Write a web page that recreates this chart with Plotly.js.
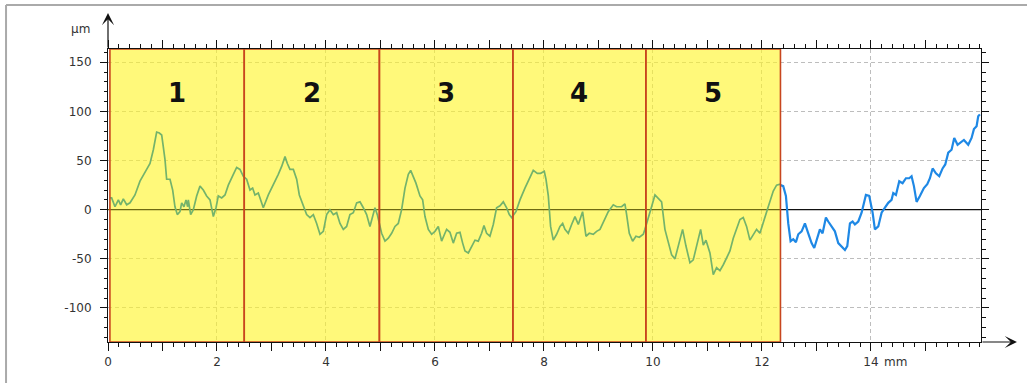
<!DOCTYPE html>
<html>
<head>
<meta charset="utf-8">
<script src="https://cdn.plot.ly/plotly-3.0.1.min.js"></script>
<style>
  html, body { margin: 0; padding: 0; background: #fff; }
  #chart { width: 1029px; height: 383px; }
</style>
</head>
<body>
<div id="chart"></div>
<script>
// Surface profile, position in mm and height in µm
const evalX = [0.037,0.067,0.128,0.190,0.232,0.281,0.343,0.404,0.495,0.587,0.709,0.771,0.832,0.893,0.942,0.985,1.015,1.046,1.076,1.138,1.187,1.229,1.272,1.321,1.352,1.394,1.431,1.462,1.474,1.517,1.566,1.627,1.688,1.749,1.810,1.872,1.933,1.982,2.024,2.086,2.147,2.208,2.300,2.361,2.422,2.483,2.544,2.606,2.654,2.697,2.758,2.850,2.942,3.034,3.125,3.187,3.248,3.291,3.339,3.401,3.462,3.511,3.584,3.645,3.706,3.768,3.829,3.890,3.951,4.012,4.073,4.135,4.196,4.257,4.318,4.379,4.440,4.502,4.563,4.624,4.685,4.746,4.807,4.856,4.899,4.942,5.021,5.083,5.144,5.205,5.266,5.327,5.388,5.450,5.511,5.554,5.602,5.651,5.725,5.774,5.817,5.878,5.939,6.000,6.061,6.122,6.183,6.214,6.275,6.336,6.398,6.459,6.508,6.551,6.612,6.673,6.734,6.795,6.856,6.899,6.948,7.009,7.070,7.131,7.193,7.254,7.315,7.364,7.407,7.486,7.560,7.651,7.731,7.804,7.878,7.939,8.006,8.037,8.080,8.122,8.171,8.232,8.294,8.343,8.385,8.446,8.508,8.569,8.630,8.709,8.771,8.832,8.905,8.966,9.028,9.089,9.180,9.272,9.333,9.425,9.486,9.517,9.566,9.627,9.688,9.749,9.823,9.853,9.914,9.975,10.037,10.098,10.159,10.220,10.281,10.343,10.404,10.465,10.544,10.606,10.679,10.740,10.801,10.875,10.924,10.973,11.046,11.107,11.168,11.229,11.291,11.352,11.413,11.474,11.535,11.596,11.657,11.718,11.780,11.841,11.902,11.963,12.024,12.116,12.208,12.269,12.330,12.343];
const evalY = [12,12,3,10,5,11,5,7,15,29,41,47,61,79,78,76,64,51,31,31,20,3,-5,-2,7,3,10,3,10,-5,0,14,24,20,14,10,-7,2,14,12,15,25,36,43,41,34,31,20,22,15,17,2,15,25,36,44,54,47,41,41,31,15,3,-5,-8,-5,-14,-25,-22,-5,0,-5,-3,-14,-20,-17,-5,-3,7,8,2,-5,-17,-8,2,-5,-24,-32,-29,-24,-17,-14,0,22,36,40,34,27,14,10,-7,-20,-25,-22,-17,-32,-24,-20,-23,-34,-24,-23,-34,-42,-44,-37,-31,-32,-24,-16,-24,-27,-15,2,4,8,2,-5,-8,-2,10,22,32,40,37,37,39,31,14,-17,-31,-25,-17,-14,-20,-24,-15,-7,-15,-2,-27,-24,-25,-22,-20,-12,-2,5,3,3,6,-5,-24,-32,-27,-28,-25,-20,-7,3,15,12,8,-20,-34,-46,-50,-37,-20,-37,-54,-51,-36,-20,-36,-31,-44,-66,-59,-62,-56,-49,-42,-29,-20,-10,-8,-17,-31,-25,-20,-24,-14,3,19,25,26,25];

const restX = [12.343,12.391,12.440,12.483,12.526,12.575,12.624,12.667,12.728,12.789,12.850,12.911,12.960,13.015,13.064,13.113,13.174,13.217,13.278,13.339,13.401,13.462,13.523,13.566,13.615,13.664,13.706,13.768,13.829,13.908,13.969,14.031,14.073,14.135,14.196,14.257,14.318,14.379,14.410,14.459,14.520,14.581,14.642,14.703,14.746,14.789,14.838,14.899,14.972,15.034,15.083,15.132,15.193,15.254,15.315,15.364,15.419,15.480,15.529,15.590,15.651,15.706,15.786,15.847,15.890,15.939,15.969,16.000];
const restY = [25,24,14,-14,-32,-30,-33,-25,-22,-14,-24,-34,-39,-29,-20,-24,-8,-12,-17,-22,-34,-37,-41,-37,-14,-12,-15,-12,-3,15,14,-3,-20,-17,-3,2,7,10,17,15,29,27,32,32,34,24,8,14,22,26,32,42,37,34,42,46,58,61,73,66,69,71,66,73,82,85,95,97];

// Evaluation sections (mm) and their labels
const sectionEdges = [0.035, 2.50, 4.98, 7.43, 9.87, 12.34];
const sectionLabels = ['1', '2', '3', '4', '5'];
const sectionLabelY = 119;

// Axis ticks
const xLabelVals = [0, 2, 4, 6, 8, 10, 12, 14];
const xLabelText = ['0', '2', '4', '6', '8', '10', '12', '14'];
const xOddVals = [1, 3, 5, 7, 9, 11, 13, 15];
const yTickVals = [-100, -50, 0, 50, 100, 150];
const yTickText = ['-100', '-50', '0', '50', '100', '150'];

const X_RANGE = [0, 16.02];
const Y_RANGE = [-134.6, 163.5];

const tickFont = { family: 'DejaVu Sans, sans-serif', size: 12, color: '#333' };
const axisInk = '#111';
const gridInk = '#bdbdbd';
const sectionRed = '#c8461e';

const shapes = [];
const annotations = [];

// yellow evaluation bands (between grid and traces)
for (let i = 0; i < sectionLabels.length; i++) {
  shapes.push({
    type: 'rect', layer: 'between', xref: 'x', yref: 'y',
    x0: sectionEdges[i], x1: sectionEdges[i + 1], y0: Y_RANGE[0], y1: Y_RANGE[1],
    fillcolor: 'rgba(255,245,40,0.62)', line: { width: 0 }
  });
}
// zero reference line
shapes.push({
  type: 'line', layer: 'between', xref: 'x', yref: 'y',
  x0: X_RANGE[0], x1: sectionEdges[sectionEdges.length - 1], y0: 0, y1: 0,
  line: { color: '#6e6a12', width: 1.3 }
});
shapes.push({
  type: 'line', layer: 'between', xref: 'x', yref: 'y',
  x0: sectionEdges[sectionEdges.length - 1], x1: X_RANGE[1], y0: 0, y1: 0,
  line: { color: '#111', width: 1.3 }
});
// red section outlines
for (let i = 0; i < sectionLabels.length; i++) {
  shapes.push({
    type: 'rect', layer: 'above', xref: 'x', yref: 'y',
    x0: sectionEdges[i], x1: sectionEdges[i + 1], y0: Y_RANGE[0], y1: Y_RANGE[1],
    fillcolor: 'rgba(0,0,0,0)', line: { color: sectionRed, width: 1.6 }
  });
  annotations.push({
    xref: 'x', yref: 'y',
    x: (sectionEdges[i] + sectionEdges[i + 1]) / 2, y: sectionLabelY,
    text: '<b>' + sectionLabels[i] + '</b>', showarrow: false,
    font: { family: 'DejaVu Sans, sans-serif', size: 26, color: '#111' }
  });
}
// outer frame of the panel
shapes.push({
  type: 'line', layer: 'above', xref: 'paper', yref: 'paper',
  x0: -0.1168, x1: 1.0527, y0: 1.1502, y1: 1.1502,
  line: { color: '#aaaaaa', width: 2 }
});
shapes.push({
  type: 'line', layer: 'above', xref: 'paper', yref: 'paper',
  x0: -0.1168, x1: -0.1168, y0: 1.1502, y1: -0.2,
  line: { color: '#aaaaaa', width: 2 }
});

// axis arrows
annotations.push({
  xref: 'x', yref: 'paper', x: 0, y: 1.123, ax: 0, ay: 36,
  text: '', showarrow: true, arrowhead: 3, arrowsize: 1.7, arrowwidth: 1.2,
  arrowcolor: axisInk, standoff: 0, startstandoff: 0
});
annotations.push({
  xref: 'paper', yref: 'paper', x: 1.0412, y: 0, ax: -36, ay: 0,
  text: '', showarrow: true, arrowhead: 3, arrowsize: 1.7, arrowwidth: 1.2,
  arrowcolor: axisInk, standoff: 0, startstandoff: 0
});
// unit labels
annotations.push({
  xref: 'paper', yref: 'paper', x: -0.018, y: 1.068, xanchor: 'right', yanchor: 'middle',
  text: 'µm', showarrow: false, font: tickFont
});
annotations.push({
  xref: 'x', yref: 'paper', x: 14.2, y: -0.069, xanchor: 'left', yanchor: 'middle',
  text: 'mm', showarrow: false, font: tickFont
});

const traces = [
  {
    type: 'scatter', mode: 'lines', x: evalX, y: evalY, xaxis: 'x', yaxis: 'y',
    line: { color: '#74b36b', width: 1.7 }, hoverinfo: 'skip', showlegend: false
  },
  {
    type: 'scatter', mode: 'lines', x: restX, y: restY, xaxis: 'x2', yaxis: 'y',
    line: { color: '#1e88e5', width: 2.2 }, hoverinfo: 'skip', showlegend: false
  }
];

const layout = {
  width: 1029, height: 383,
  margin: { l: 108, r: 48, t: 49, b: 41, pad: 0 },
  paper_bgcolor: '#ffffff', plot_bgcolor: '#ffffff',
  showlegend: false,
  xaxis: {
    range: X_RANGE, fixedrange: true,
    showline: true, linecolor: axisInk, linewidth: 1, mirror: 'ticks',
    ticks: 'outside', ticklen: 8, tickwidth: 1, tickcolor: axisInk,
    tickmode: 'array', tickvals: xLabelVals, ticktext: xLabelText,
    tickfont: tickFont, ticklabelstandoff: 1,
    showgrid: true, gridcolor: gridInk, gridwidth: 1, griddash: '4px,3px',
    zeroline: false,
    minor: { dtick: 0.2, tick0: 0, ticks: 'outside', ticklen: 4, tickcolor: axisInk, tickwidth: 1, showgrid: false }
  },
  xaxis2: {
    overlaying: 'x', matches: 'x', anchor: 'y', side: 'bottom',
    range: X_RANGE, fixedrange: true,
    showline: true, linecolor: axisInk, linewidth: 1, mirror: 'ticks',
    ticks: 'outside', ticklen: 8, tickwidth: 1, tickcolor: axisInk,
    tickmode: 'array', tickvals: xOddVals, showticklabels: false,
    showgrid: false, zeroline: false
  },
  yaxis: {
    range: Y_RANGE, fixedrange: true,
    showline: true, linecolor: axisInk, linewidth: 1, mirror: 'ticks',
    ticks: 'outside', ticklen: 7, tickwidth: 1, tickcolor: axisInk,
    tickmode: 'array', tickvals: yTickVals, ticktext: yTickText,
    tickfont: tickFont, ticklabelstandoff: 6,
    showgrid: true, gridcolor: gridInk, gridwidth: 1, griddash: '4px,3px',
    zeroline: false,
    minor: { dtick: 10, tick0: 0, ticks: 'outside', ticklen: 3.5, tickcolor: axisInk, tickwidth: 1, showgrid: false }
  },
  shapes: shapes,
  annotations: annotations
};

Plotly.newPlot('chart', traces, layout, { staticPlot: true, displayModeBar: false });
</script>
</body>
</html>
